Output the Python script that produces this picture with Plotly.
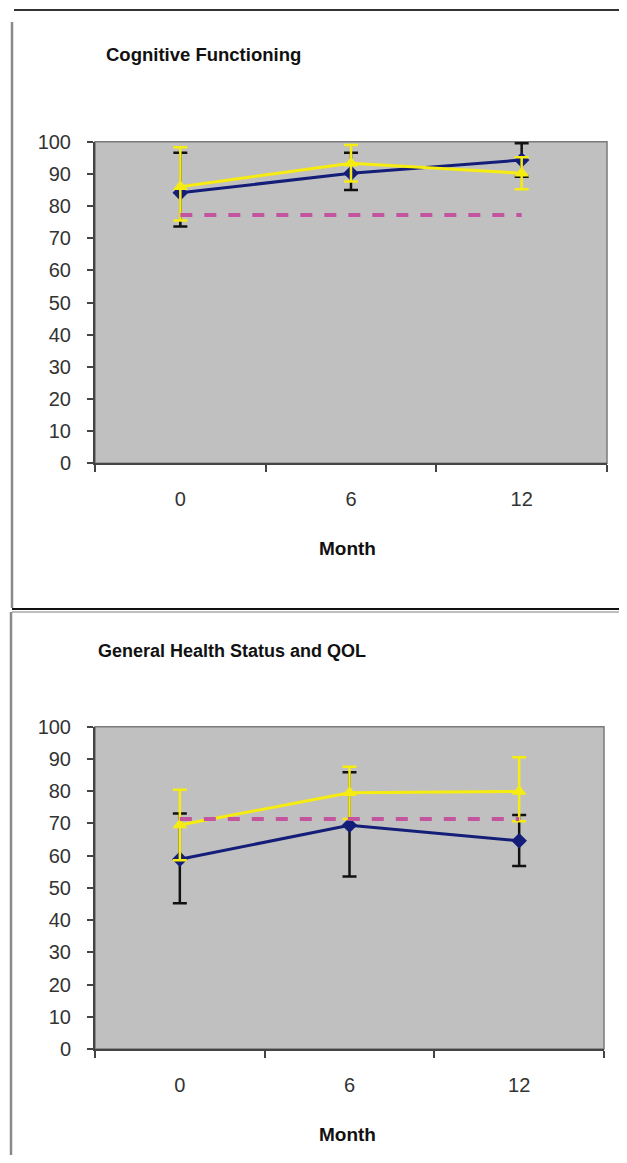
import plotly.graph_objects as go

# the page body keeps its default 8px margin, so the figure is drawn 8px in
OFF = 8
W, H = 627 - 2 * OFF, 1163 - 2 * OFF

months = ["0", "6", "12"]

# Cognitive Functioning
cog_blue = [84.1, 90.2, 94.3]
cog_blue_plus = [12.5, 6.4, 5.2]
cog_blue_minus = [10.5, 5.2, 5.2]
cog_yellow = [86.0, 93.3, 90.2]
cog_yellow_plus = [12.3, 5.7, 5.0]
cog_yellow_minus = [10.5, 5.7, 5.0]
cog_ref = [77.2, 77.2, 77.2]

# General Health Status and QOL
gh_blue = [58.9, 69.4, 64.6]
gh_blue_plus = [14.2, 16.5, 8.0]
gh_blue_minus = [13.7, 15.9, 7.8]
gh_yellow = [69.5, 79.5, 79.9]
gh_yellow_plus = [10.9, 8.1, 10.6]
gh_yellow_minus = [10.9, 8.1, 9.2]
gh_ref = [71.4, 71.4, 71.4]

titles = ["Cognitive Functioning", "General Health Status and QOL"]
x_title = "Month"
y_ticks = list(range(0, 101, 10))

BLUE = "#141E78"
YELLOW = "#F6EC10"
MAGENTA = "#C4549E"
FONT = "Liberation Sans, Arial, sans-serif"


def px_x(v):
    return (v - OFF) / W


def px_y(v):
    return 1 - (v - OFF) / H


fig = go.Figure()


def add_panel(idx, blue, bp, bm, yel, yp, ym, ref):
    xa = "x" if idx == 1 else "x2"
    ya = "y" if idx == 1 else "y2"
    fig.add_trace(go.Scatter(
        x=months, y=blue, xaxis=xa, yaxis=ya, mode="lines+markers",
        line=dict(color=BLUE, width=3),
        marker=dict(symbol="diamond", size=12, color=BLUE),
        error_y=dict(type="data", symmetric=False, array=bp, arrayminus=bm,
                     color="#111111", thickness=2.5, width=7),
        showlegend=False, cliponaxis=False))
    fig.add_trace(go.Scatter(
        x=months, y=yel, xaxis=xa, yaxis=ya, mode="lines+markers",
        line=dict(color=YELLOW, width=3),
        marker=dict(symbol="triangle-up", size=13, color=YELLOW),
        error_y=dict(type="data", symmetric=False, array=yp, arrayminus=ym,
                     color=YELLOW, thickness=2.5, width=7),
        showlegend=False, cliponaxis=False))
    fig.add_trace(go.Scatter(
        x=months, y=ref, xaxis=xa, yaxis=ya, mode="lines",
        line=dict(color=MAGENTA, width=4, dash="dash"),
        showlegend=False))


add_panel(1, cog_blue, cog_blue_plus, cog_blue_minus,
          cog_yellow, cog_yellow_plus, cog_yellow_minus, cog_ref)
add_panel(2, gh_blue, gh_blue_plus, gh_blue_minus,
          gh_yellow, gh_yellow_plus, gh_yellow_minus, gh_ref)

panels = [
    dict(x0=95, x1=607, y_top=141.7, y_bot=463.3),
    dict(x0=95, x1=604, y_top=726.7, y_bot=1049),
]

axis_common_x = dict(
    type="category", range=[-0.5, 2.5], tickson="boundaries",
    ticks="outside", ticklen=7, tickwidth=2, tickcolor="#444",
    showline=True, linecolor="#444", linewidth=2, showgrid=False,
    zeroline=False, tickfont=dict(family=FONT, size=20, color="#333"),
    ticklabelstandoff=17, fixedrange=True, automargin=False)
axis_common_y = dict(
    range=[0, 100], tickvals=y_ticks, ticks="outside", ticklen=6, tickwidth=2,
    tickcolor="#444", showline=True, linecolor="#444", linewidth=2,
    showgrid=False, zeroline=False,
    tickfont=dict(family=FONT, size=20, color="#333"),
    ticklabelstandoff=12, fixedrange=True, automargin=False)

layout = dict(
    width=W, height=H, margin=dict(l=0, r=0, t=0, b=0, pad=0, autoexpand=False),
    paper_bgcolor="white", plot_bgcolor="#C0C0C0", showlegend=False,
)
for i, p in enumerate(panels):
    sx = "" if i == 0 else "2"
    layout["xaxis" + sx] = dict(axis_common_x,
                                domain=[px_x(p["x0"]), px_x(p["x1"])],
                                anchor="y" + sx)
    layout["yaxis" + sx] = dict(axis_common_y,
                                domain=[px_y(p["y_bot"]), px_y(p["y_top"])],
                                anchor="x" + sx)
fig.update_layout(**layout)

shapes = []
annotations = []
for i, p in enumerate(panels):
    shapes.append(dict(type="rect", xref="paper", yref="paper",
                       x0=px_x(p["x0"]), x1=px_x(p["x1"]),
                       y0=px_y(p["y_bot"]), y1=px_y(p["y_top"]),
                       line=dict(color="#7A7A7A", width=1.5), layer="below"))
    annotations.append(dict(text="<b>" + x_title + "</b>", xref="paper", yref="paper",
                            x=px_x(347), y=px_y(p["y_bot"] + 85),
                            xanchor="center", yanchor="middle", showarrow=False,
                            font=dict(family=FONT, size=19, color="#111")))

annotations.append(dict(text="<b>" + titles[0] + "</b>", xref="paper", yref="paper",
                        x=px_x(104), y=px_y(54), xanchor="left", yanchor="middle",
                        showarrow=False, font=dict(family=FONT, size=18.5, color="#111")))
annotations.append(dict(text="<b>" + titles[1] + "</b>", xref="paper", yref="paper",
                        x=px_x(96), y=px_y(651), xanchor="left", yanchor="middle",
                        showarrow=False, font=dict(family=FONT, size=18, color="#111")))


def line(x0, y0, x1, y1, color, width):
    shapes.append(dict(type="line", xref="paper", yref="paper",
                       x0=px_x(x0), y0=px_y(y0), x1=px_x(x1), y1=px_y(y1),
                       line=dict(color=color, width=width)))


# panel borders
line(14, 10, 619, 10, "#333333", 2)
line(12, 22, 12, 608, "#8A8A8A", 2.5)
line(12, 609, 619, 609, "#111111", 2)
line(12, 612, 619, 612, "#AAAAAA", 1.5)
line(11, 612, 11, 1155, "#8A8A8A", 2.5)

fig.update_layout(shapes=shapes, annotations=annotations)

fig.write_html("out.html", config={"displayModeBar": False})
